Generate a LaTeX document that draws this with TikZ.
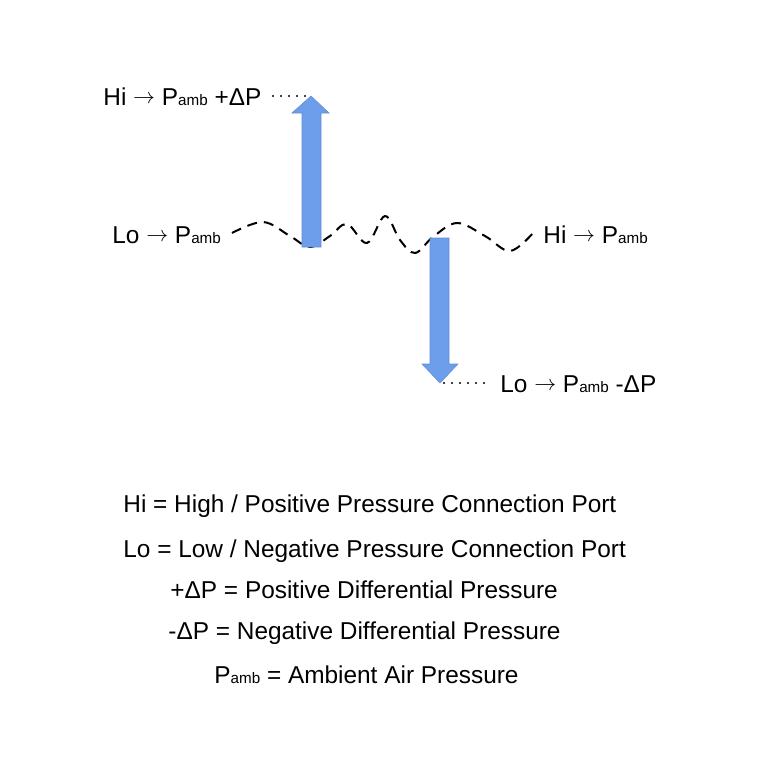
\documentclass[tikz,border=0pt]{standalone}
\usepackage{fontspec}
\setmainfont{Liberation Sans}
\usetikzlibrary{positioning}
\definecolor{arrowblue}{HTML}{6D9EEB}
\newcommand{\Pamb}{P{\fontsize{7.6}{9}\selectfont amb}}
\newcommand{\goesto}{\raisebox{0.7pt}{\fontsize{11}{12}\selectfont$\rightarrow$}}
\tikzset{
  lbl/.style={inner sep=0pt,anchor=base west,font=\fontsize{12.2}{14}\selectfont},
  bigarrow/.style={fill=arrowblue,draw=arrowblue!90!black,line width=0.3pt},
  dots/.style={line width=1.2pt,line cap=round,dash pattern=on 0pt off 4pt},
  wave/.style={line width=1pt,dash pattern=on 5pt off 3.5pt}
}
\begin{document}
\begin{tikzpicture}[x=0.5pt,y=-0.5pt]
        \useasboundingbox (0,0) rectangle (768,768);
        % port labels
        \node[lbl] at (103,105) (hiTop) {Hi \goesto\ \Pamb\ +ΔP};
        \node[lbl] at (112,243) (loLeft) {Lo \goesto\ \Pamb};
        \node[lbl] at (543,243) (hiRight) {Hi \goesto\ \Pamb};
        \node[lbl] at (500,392) (loBottom) {Lo \goesto\ \Pamb\ -ΔP};
        % diaphragm
        \draw[wave] plot[smooth,tension=0.6] coordinates {(232,233) (263,222) (290,236) (310,247)
            (330,236) (347,224) (367,243) (385,216) (400,240) (415,253) (433,237) (457,223)
            (485,236) (510,251) (533,233)};
        % arrows
        \coordinate (upTip) at (311,96);
        \coordinate (downTip) at (440,383);
        \draw[bigarrow] (302,247) -- (302,113) -- (292,113) -- (upTip) -- (329,113)
            -- (321,113) -- (321,247) -- cycle;
        \draw[bigarrow] (430,238) -- (430,364) -- (422,364) -- (downTip) -- (458,364)
            -- (449,364) -- (449,238) -- cycle;
        \draw[dots] (273,96) -- (upTip);
        \draw[dots] (downTip) ++(4,0) -- ([xshift=-8]loBottom.west |- downTip);
        % legend
        \node[lbl] at (123,512) (hiDef) {Hi = High / Positive Pressure Connection Port};
        \node[lbl] at (123,557) (loDef) {Lo = Low / Negative Pressure Connection Port};
        \node[lbl] at (170,598) (plusDef) {+ΔP = Positive Differential Pressure};
        \node[lbl] at (168,639) (minusDef) {-ΔP = Negative Differential Pressure};
        \node[lbl] at (214,683) (ambDef) {\Pamb\ = Ambient Air Pressure};
\end{tikzpicture}
\end{document}
